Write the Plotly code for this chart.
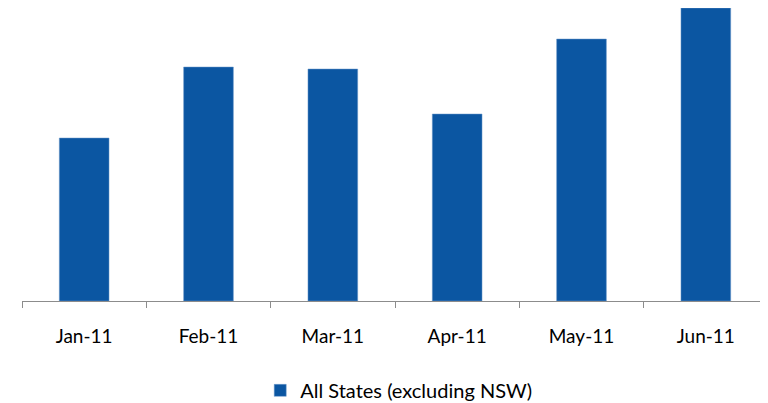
import plotly.graph_objects as go

months = ["Jan-11", "Feb-11", "Mar-11", "Apr-11", "May-11", "Jun-11"]
values = [163, 234, 232, 187, 262, 293]
series_name = "All States (excluding NSW)"

fig = go.Figure()
fig.add_trace(go.Bar(
    x=months, y=values, name=series_name,
    marker=dict(color="#0B56A2", line=dict(color="#6F9BCB", width=0.5)),
    showlegend=True,
))

# page body has an 8px default margin, so the figure is sized to fit the window
fig.update_layout(
    width=760, height=395,
    margin=dict(l=14, r=0, t=0, b=102, autoexpand=False),
    paper_bgcolor="white", plot_bgcolor="white",
    bargap=0.6,
    font=dict(family="Lato, Open Sans, sans-serif", size=19, color="#000000"),
    showlegend=True,
    legend=dict(orientation="h", x=0.505, xanchor="center", y=-0.305, yanchor="middle",
                font=dict(size=20), itemwidth=30),
    xaxis=dict(type="category", showline=True, linecolor="#8C8C8C", linewidth=1.3,
               ticks="outside", tickson="boundaries", ticklen=6, tickcolor="#8C8C8C",
               tickwidth=1.3, ticklabelstandoff=18, showgrid=False, zeroline=False,
               automargin=False),
    yaxis=dict(range=[0, 293], visible=False, showgrid=False, zeroline=False,
               automargin=False),
)

fig.write_html("out.html")
